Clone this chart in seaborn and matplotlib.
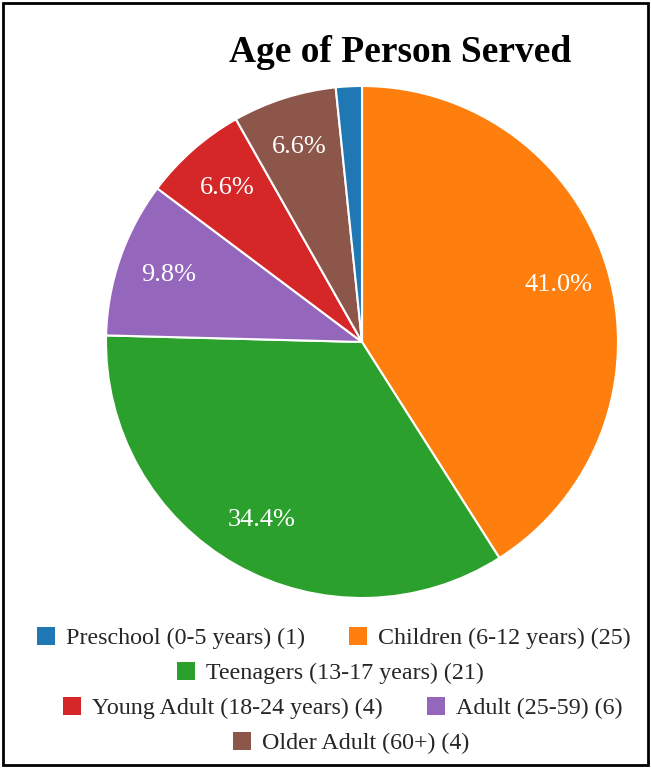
import matplotlib
matplotlib.use("Agg")
import matplotlib.pyplot as plt
import matplotlib.patches as mpatches
import seaborn as sns

categories = ["Preschool (0-5 years)", "Children (6-12 years)", "Teenagers (13-17 years)",
              "Young Adult (18-24 years)", "Adult (25-59)", "Older Adult (60+)"]
counts = [1, 25, 21, 4, 6, 4]
legend_rows = [[0, 1], [2], [3, 4], [5]]

sns.set_theme(style="white")
plt.rcParams["font.family"] = "serif"
plt.rcParams["font.serif"] = ["Liberation Serif", "DejaVu Serif"]
colors = sns.color_palette("tab10", len(counts))

fig = plt.figure(figsize=(6.51, 7.68), dpi=100)
fig.patch.set_facecolor("white")

ax = fig.add_axes([106 / 651, 170 / 768, 512 / 651, 512 / 768])

# slices run clockwise from the top, largest first
order = sorted(range(len(counts)), key=lambda i: -counts[i])
pie_counts = [counts[i] for i in order]
pie_colors = [colors[i] for i in order]


def pct_label(p):
    return f"{p:.1f}%" if p >= 3 else ""


wedges, texts, autotexts = ax.pie(
    pie_counts, colors=pie_colors, startangle=90, counterclock=False,
    autopct=pct_label, pctdistance=0.8,
    wedgeprops=dict(edgecolor="white", linewidth=1.5),
    textprops=dict(color="white", fontsize=19, family="serif"),
)
ax.set_xlim(-1, 1)
ax.set_ylim(-1, 1)
ax.set_aspect("equal")

fig.text(400 / 651, 1 - 52 / 768, "Age of Person Served", ha="center", va="center",
         fontsize=27, fontweight="bold", color="black", family="serif")

# one centred legend line per row
row_left = [37, 177, 63, 233]
row_y = [638, 673, 708, 743]
for row, x, y in zip(legend_rows, row_left, row_y):
    handles = [mpatches.Patch(facecolor=colors[i], edgecolor="none") for i in row]
    labels = [f"{categories[i]} ({counts[i]})" for i in row]
    fig.legend(handles, labels, loc="center left", bbox_to_anchor=(x / 651, 1 - y / 768),
               ncol=len(row), frameon=False, prop=dict(family="serif", size=17.3),
               handlelength=0.75, handleheight=0.75, handletextpad=0.45,
               columnspacing=1.85, borderaxespad=0, borderpad=0)

fig.add_artist(mpatches.Rectangle((3 / 651, 3 / 768), 645 / 651, 762 / 768,
                                  transform=fig.transFigure, fill=False,
                                  edgecolor="black", linewidth=2))

fig.savefig("out.png", dpi=100)
